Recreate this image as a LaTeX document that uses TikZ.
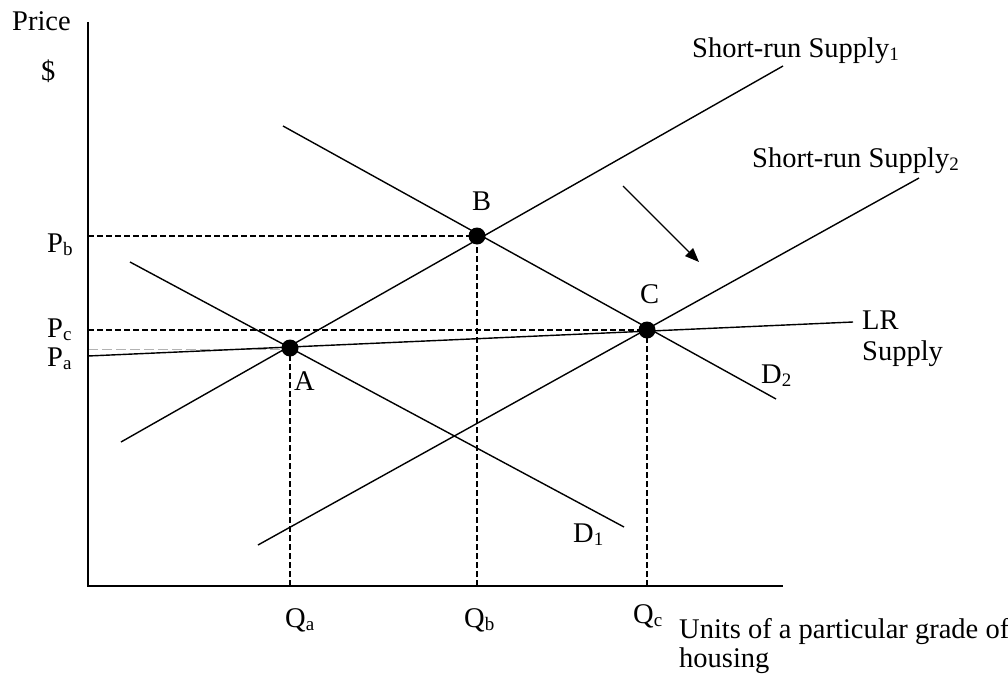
\documentclass[tikz,border=0pt]{standalone}
\usepackage{fontspec}
\setmainfont{Liberation Serif}
\usetikzlibrary{arrows.meta}
\newcommand{\lsub}[1]{\raisebox{-0.3ex}{\fontsize{19}{19}\selectfont #1}}
\begin{document}
\begin{tikzpicture}[x=1pt,y=-1pt,
  curve/.style={line width=1.4pt},
  axis/.style={line width=1.8pt},
  guide/.style={line width=1.7pt, dash pattern=on 6pt off 3pt},
  faint/.style={line width=0.8pt, gray!60, dash pattern=on 10pt off 4pt},
  dot/.style={circle, fill=black, inner sep=0pt, minimum size=17pt},
  lbl/.style={font=\fontsize{28.5}{31}\selectfont, inner sep=0pt},
  every node/.style={inner sep=0pt}]
\useasboundingbox (0,0) rectangle (1008,685);
% coordinates
\coordinate (O) at (88,586);
\coordinate (ytop) at (88,22);
\coordinate (xend) at (783,586);
\coordinate (s1a) at (121,442);
\coordinate (s1b) at (783,66);
\coordinate (s2a) at (258,545);
\coordinate (s2b) at (919,178);
\coordinate (d1a) at (130,262);
\coordinate (d1b) at (624,527);
\coordinate (d2a) at (283,126);
\coordinate (d2b) at (776,399);
\coordinate (lra) at (88,356);
\coordinate (lrb) at (853,322);
\coordinate (pb) at (88,236);
\coordinate (pc) at (88,330);
\coordinate (pa) at (88,349);
\coordinate (qa) at (290,586);
\coordinate (qb) at (477,586);
\coordinate (qc) at (647,586);
\coordinate (ar1) at (623,186);
\coordinate (ar2) at (699,262);
% guides
\draw[faint] (pa) -- (290,349);
\draw[guide] (pb) -- (477,236);
\draw[guide] (pc) -- (647,330);
\draw[guide] (qa) -- (290,348);
\draw[guide] (qb) -- (477,236);
\draw[guide] (qc) -- (647,330);
% axes
\draw[axis] (ytop) -- (O) -- (xend);
% curves
\draw[curve] (s1a) -- (s1b);
\draw[curve] (s2a) -- (s2b);
\draw[curve] (d1a) -- (d1b);
\draw[curve] (d2a) -- (d2b);
\draw[curve] (lra) -- (lrb);
\draw[line width=1.4pt, -{Triangle[length=14pt,width=11pt]}] (ar1) -- (ar2);
% dots
\node[dot] (A) at (290,348) {};
\node[dot] (B) at (477,236) {};
\node[dot] (C) at (647,330) {};
% labels
\node[lbl, anchor=base west] (price) at (12,31) {Price};
\node[lbl, anchor=base west] (dollar) at (41,81) {\$};
\node[lbl, anchor=base west] (Pb) at (47,252) {P\lsub{b}};
\node[lbl, anchor=base west] (Pc) at (47,337) {P\lsub{c}};
\node[lbl, anchor=base west] (Pa) at (47,366) {P\lsub{a}};
\node[lbl, anchor=base west] (Al) at (294,390) {A};
\node[lbl, anchor=base west] (Bl) at (472,210) {B};
\node[lbl, anchor=base west] (Cl) at (640,303) {C};
\node[lbl, anchor=base west] (D1) at (573,542) {D\lsub{1}};
\node[lbl, anchor=base west] (D2) at (761,383) {D\lsub{2}};
\node[lbl, anchor=base west] (LR) at (862,329) {LR};
\node[lbl, anchor=base west] (LRs) at (862,360) {Supply};
\node[lbl, anchor=base west] (S1) at (692,57) {Short-run Supply\lsub{1}};
\node[lbl, anchor=base west] (S2) at (752,167) {Short-run Supply\lsub{2}};
\node[lbl, anchor=base west] (Qa) at (285,627) {Q\lsub{a}};
\node[lbl, anchor=base west] (Qb) at (464,627) {Q\lsub{b}};
\node[lbl, anchor=base west] (Qc) at (633,623) {Q\lsub{c}};
\node[lbl, anchor=base west] (units) at (679,638) {Units of a particular grade of};
\node[lbl, anchor=base west] (housing) at (679,667) {housing};
\end{tikzpicture}
\end{document}
